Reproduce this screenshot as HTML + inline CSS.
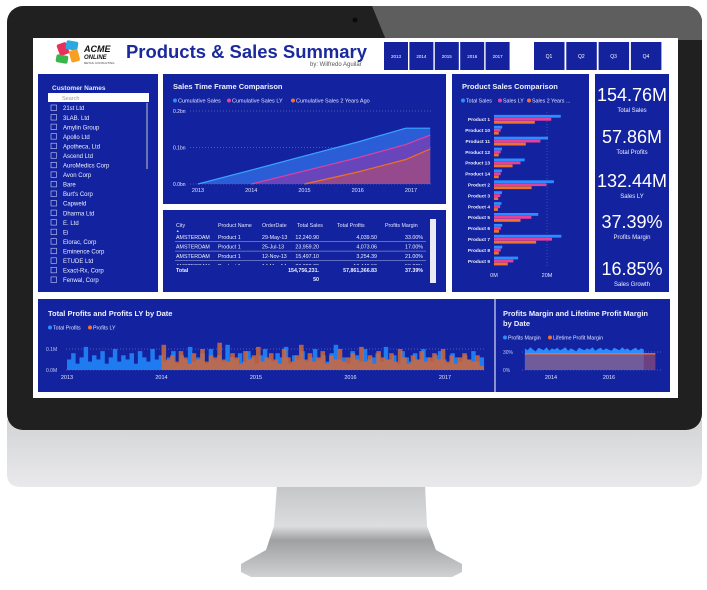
<!DOCTYPE html>
<html><head><meta charset="utf-8">
<style>
html,body{margin:0;padding:0;background:#fff;width:707px;height:590px;overflow:hidden}
svg{display:block}
text{font-family:"Liberation Sans",sans-serif}
</style></head>
<body>
<svg id="root" width="707" height="590" viewBox="0 0 707 590" xmlns="http://www.w3.org/2000/svg">
<defs>
<linearGradient id="chinG" x1="0" y1="0" x2="0" y2="1"><stop offset="0" stop-color="#d3d4d6"/><stop offset="1" stop-color="#e9e9eb"/></linearGradient>
<linearGradient id="neckG" x1="0" y1="0" x2="0" y2="1"><stop offset="0" stop-color="#c4c5c7"/><stop offset="0.45" stop-color="#dcdddf"/><stop offset="0.6" stop-color="#9fa0a2"/><stop offset="1" stop-color="#d0d1d3"/></linearGradient>
<clipPath id="bezelClip"><rect x="7" y="6" width="695" height="424" rx="16"/></clipPath>
</defs>
<!-- monitor -->
<path d="M277,485 L425,485 L427,526 L436,550 L462,564 L462,572 L452,577 L251,577 L241,572 L241,564 L266,550 L274,526 Z" fill="url(#neckG)"/>
<path d="M7,420 L702,420 L702,474 Q702,487 688,487 L21,487 Q7,487 7,474 Z" fill="url(#chinG)"/>
<g clip-path="url(#bezelClip)">
<rect x="7" y="6" width="695" height="424" fill="#202020"/>
<polygon points="372,6 702,6 702,40 386,40" fill="#5e5e5e"/>
</g>
<circle cx="355" cy="20" r="2.5" fill="#0a0a0a"/>
<rect x="33" y="38" width="645" height="360" fill="#ffffff"/>

<!-- header -->
<g>
<rect x="58" y="43" width="10" height="12" rx="2" fill="#e8305a" transform="rotate(-20 63 49)"/>
<rect x="66" y="41" width="12" height="9" rx="2" fill="#2aa8e0" transform="rotate(10 72 45)"/>
<rect x="70" y="50" width="9" height="12" rx="2" fill="#f5a020" transform="rotate(-15 74 56)"/>
<rect x="56" y="55" width="12" height="8" rx="2" fill="#3ab54a" transform="rotate(10 62 59)"/>
<text x="84" y="52" font-size="9" font-weight="bold" font-style="italic" fill="#111">ACME</text>
<text x="84" y="59" font-size="6" font-weight="bold" font-style="italic" fill="#111">ONLINE</text>
<text x="84" y="64" font-size="3" fill="#444">RETAIL CONSULTING</text>
</g>
<text x="126" y="58" font-size="18" font-weight="bold" fill="#1a2a9c" textLength="241" lengthAdjust="spacingAndGlyphs">Products &amp; Sales Summary</text>
<text x="310" y="66" font-size="6" fill="#555">by: Wilfredo Aguilar</text>
<g id="slicers"></g>

<!-- panels -->
<rect x="38" y="74" width="120" height="218" fill="#1323a0"/>
<rect x="163" y="74" width="283" height="130" fill="#1323a0"/>
<rect x="163" y="210" width="283" height="82" fill="#1323a0"/>
<rect x="452" y="74" width="137" height="218" fill="#1323a0"/>
<rect x="595" y="74" width="74" height="218" fill="#1323a0"/>
<rect x="38" y="299" width="632" height="93" fill="#1323a0"/>
<line x1="495" y1="299" x2="495" y2="392" stroke="#ffffff" stroke-width="1"/>

<!-- customer list -->
<text x="52" y="90" font-size="6.5" font-weight="bold" fill="#dfe4ff">Customer Names</text>
<rect x="48" y="93" width="101" height="9" fill="#ffffff"/>
<text x="62" y="100" font-size="5.5" fill="#999">Search</text>
<rect x="146" y="103" width="2" height="66" fill="#6a72b8"/>
<g id="custList"></g>

<!-- sales time frame -->
<text x="173" y="89" font-size="7.5" font-weight="bold" fill="#eef0ff">Sales Time Frame Comparison</text>
<g id="tfLegend"></g>
<g id="tfChart"></g>

<!-- table -->
<g id="table"></g>

<!-- product -->
<text x="462" y="89" font-size="7.5" font-weight="bold" fill="#eef0ff">Product Sales Comparison</text>
<g id="prodChart"></g>

<!-- kpis -->
<g id="kpis"></g>

<!-- bottom left -->
<text x="48" y="316" font-size="7.5" font-weight="bold" fill="#eef0ff">Total Profits and Profits LY by Date</text>
<g id="profChart"></g>

<!-- bottom right -->
<text x="503" y="316" font-size="7.5" font-weight="bold" fill="#eef0ff">Profits Margin and Lifetime Profit Margin</text>
<text x="503" y="326" font-size="7.5" font-weight="bold" fill="#eef0ff">by Date</text>
<g id="marginChart"></g>
</svg>

<script>
// ---------- data ----------
const years = ["2013","2014","2015","2016","2017"];
const quarters = ["Q1","Q2","Q3","Q4"];
const customers = ["21st Ltd","3LAB. Ltd","Amylin Group","Apollo Ltd","Apotheca, Ltd","Ascend Ltd","AuroMedics Corp","Avon Corp","Bare","Burt's Corp","Capweld","Dharma Ltd","E. Ltd","Ei","Elorac, Corp","Eminence Corp","ETUDE Ltd","Exact-Rx, Corp","Fenwal, Corp"];

const tfYears = [2013, 2014, 2015, 2016, 2016.9, 2017.36];
const tfCum = [0, 0.038, 0.077, 0.115, 0.153, 0.153];
const tfLY = [null, 0, 0.036, 0.072, 0.108, 0.134];
const tf2Y = [null, null, 0, 0.033, 0.067, 0.096];
const tfTicks = ["0.0bn","0.1bn","0.2bn"];
const tfTickVals = [0, 0.1, 0.2];

const products = ["Product 1","Product 10","Product 11","Product 12","Product 13","Product 14","Product 2","Product 3","Product 4","Product 5","Product 6","Product 7","Product 8","Product 9"];
const totalSales = [25.2,3.1,20.4,3.0,11.6,3.0,22.6,3.0,2.8,16.7,3.1,25.4,3.1,9.1];
const salesLY = [21.6,2.5,17.5,2.5,10.0,2.5,19.8,2.4,2.3,14.1,2.6,21.9,2.5,7.3];
const sales2Y = [15.4,1.8,12.0,1.8,7.0,1.8,14.2,1.6,1.5,10.0,1.9,15.9,1.8,5.2];

const kpiValues = ["154.76M","57.86M","132.44M","37.39%","16.85%"];
const kpiLabels = ["Total Sales","Total Profits","Sales LY","Profits Margin","Sales Growth"];

const tblHeaders = ["City","Product Name","OrderDate","Total Sales","Total Profits","Profits Margin"];
const tblRows = [
 ["AMSTERDAM","Product 1","29-May-13","12,240.90","4,039.50","33.00%"],
 ["AMSTERDAM","Product 1","25-Jul-13","23,959.20","4,073.06","17.00%"],
 ["AMSTERDAM","Product 1","12-Nov-13","15,497.10","3,254.39","21.00%"],
 ["AMSTERDAM","Product 1","14-Mar-14","20,323.20","10,446.50","50.00%"]
];
const tblTotal = ["Total","","","154,756,231.","57,861,366.83","37.39%"];

const profitTicks = ["0.0M","0.1M"];
const profitTickVals = [0, 0.1];
const profitYears = ["2013","2014","2015","2016","2017"];
const totalProfits = [0.05,0.08,0.03,0.06,0.11,0.04,0.07,0.05,0.09,0.03,0.06,0.1,0.04,0.07,0.05,0.08,0.03,0.09,0.06,0.04,0.1,0.05,0.07,0.04,0.06,0.09,0.03,0.07,0.05,0.11,0.04,0.06,0.08,0.03,0.1,0.05,0.07,0.04,0.12,0.06,0.05,0.08,0.04,0.09,0.06,0.03,0.07,0.1,0.05,0.04,0.08,0.06,0.11,0.03,0.07,0.05,0.09,0.04,0.06,0.1,0.05,0.07,0.04,0.08,0.12,0.05,0.06,0.03,0.09,0.07,0.04,0.1,0.05,0.06,0.08,0.04,0.11,0.05,0.07,0.03,0.09,0.06,0.04,0.08,0.05,0.1,0.06,0.04,0.07,0.09,0.05,0.03,0.08,0.06,0.04,0.07,0.05,0.09,0.04,0.06];
const profitsLY = [0.12,0.05,0.07,0.04,0.09,0.06,0.03,0.08,0.05,0.1,0.04,0.07,0.06,0.13,0.05,0.04,0.08,0.06,0.03,0.09,0.05,0.07,0.11,0.04,0.06,0.08,0.05,0.03,0.1,0.06,0.04,0.07,0.12,0.05,0.08,0.04,0.06,0.09,0.03,0.07,0.05,0.1,0.04,0.06,0.08,0.05,0.11,0.04,0.07,0.03,0.09,0.06,0.05,0.08,0.04,0.1,0.06,0.03,0.07,0.05,0.09,0.04,0.06,0.08,0.05,0.1,0.04,0.07,0.03,0.06,0.08,0.05,0.04,0.07,0.02];

const marginTicks = ["0%","30%"];
const marginTickVals = [0, 30];
const marginYears = ["2014","2016"];
const profitsMargin = [36,33,38,34,31,37,35,33,38,32,36,34,37,33,35,38,32,36,34,31,37,35,33,36,34,38,32,35,37,33,36,34,32,37,35,33,38,34,36,32,35,37,33,36,34];
const lifetimeMargin = [27,27,27,27,27,27,27,27,27,27,27,27,27,27,27,27,27,27,27,27,27,27,27,27,27,27,27,27,27,27,27,27,27,27,27,27,27,27,27,27,27,27,27,27,27,27,27,27,27,27];

// ---------- helpers ----------
const NS = "http://www.w3.org/2000/svg";
function mk(tag, attrs, parent){const e=document.createElementNS(NS,tag);for(const k in attrs)e.setAttribute(k,attrs[k]);parent.appendChild(e);return e;}
function txt(s, attrs, parent){const e=mk("text",attrs,parent);e.textContent=s;return e;}

// ---------- slicers ----------
const sl = document.getElementById("slicers");
years.forEach((y,i)=>{
  const r = mk("rect",{x:384+i*25.4,y:42,width:24,height:28,fill:"#14229d"},sl);
  
  
  txt(y,{x:396+i*25.4,y:58,"font-size":4.5,fill:"#fff","text-anchor":"middle"},sl);
});
quarters.forEach((q,i)=>{
  const r = mk("rect",{x:534+i*32.3,y:42,width:30.5,height:28,fill:"#14229d"},sl);
  
  
  txt(q,{x:549+i*32.3,y:58,"font-size":5,fill:"#fff","text-anchor":"middle"},sl);
});

// ---------- customer list ----------
const cl = document.getElementById("custList");
customers.forEach((c,i)=>{
  const y = 108 + i*9.55;
  const b = mk("rect",{x:51,y:y-3,width:5.5,height:5.5,fill:"none",stroke:"#c8cdf0","stroke-width":0.6},cl);
  
  
  const t = txt(c,{x:63,y:y+2.2,"font-size":6,fill:"#eef0ff"},cl);
  
  
});

// ---------- time frame chart ----------
const tf = document.getElementById("tfChart");
const tfx = yr => 198 + (yr-2013)*53.25;
const tfy = v => 184 - v/0.2*73;
const leg = document.getElementById("tfLegend");
[["Cumulative Sales","#2d8cff",175],["Cumulative Sales LY","#e6409c",229],["Cumulative Sales 2 Years Ago","#f07030",293]].forEach(l=>{
  const d = mk("circle",{cx:l[2],cy:100.5,r:2,fill:l[1]},leg);
  
  
  const t = txt(l[0],{x:l[2]+3,y:102.5,"font-size":5.5,fill:"#dfe4ff"},leg);
  
  
});
tfTickVals.forEach((v,i)=>{
  const g = mk("line",{x1:190,x2:432,y1:tfy(v),y2:tfy(v),stroke:"#8890d0","stroke-width":0.5,"stroke-dasharray":"1 2"},tf);
  
  
  const t = txt(tfTicks[i],{x:173,y:tfy(v)+2,"font-size":5,fill:"#dfe4ff"},tf);
  
  
});
years.forEach(y=>{
  const t = txt(y,{x:tfx(+y),y:192,"font-size":5.5,fill:"#dfe4ff","text-anchor":"middle"},tf);
  
  
});
function areaPath(xs, vs){
  let pts=[];xs.forEach((x,i)=>{if(vs[i]!==null)pts.push([tfx(x),tfy(vs[i])]);});
  const line = pts.map((p,i)=>(i?"L":"M")+p[0].toFixed(1)+","+p[1].toFixed(1)).join("");
  const area = line+"L"+pts[pts.length-1][0].toFixed(1)+","+tfy(0)+"L"+pts[0][0].toFixed(1)+","+tfy(0)+"Z";
  return {line,area};
}
[[tfCum,"#2f64dc","#3aa4ff","cumulative-sales"],[tfLY,"#7043b8","#e040a0","cumulative-sales-ly"],[tf2Y,"#9a4a88","#f07020","cumulative-sales-2y"]].forEach(s=>{
  const p = areaPath(tfYears,s[0]);
  const a = mk("path",{d:p.area,fill:s[1],opacity:0.9},tf);
  
  
  const l = mk("path",{d:p.line,fill:"none",stroke:s[2],"stroke-width":1.2},tf);
  
  
});

// ---------- table ----------
const tb = document.getElementById("table");
const colX = [176,218,262,319,377,423];
const colAnchor = ["start","start","start","end","end","end"];
const hdrX = [176,218,262,297,337,385];
tblHeaders.forEach((h,i)=>{
  const t = txt(h,{x:hdrX[i],y:227,"font-size":5.3,fill:"#dfe4ff"},tb);
  
  
});
txt("▲",{x:176,y:232,"font-size":3.5,fill:"#dfe4ff"},tb);
tblRows.forEach((r,ri)=>{
  const y = 239 + ri*9.6;
  r.forEach((c,ci)=>{
    const t = txt(c,{x:colX[ci],y:y,"font-size":5.3,fill:"#eef0ff","text-anchor":colAnchor[ci]},tb);
    
    
  });
  if(ri<3){const ln=mk("line",{x1:175,x2:426,y1:y+2.5,y2:y+2.5,stroke:"#b0b6e6","stroke-width":0.5},tb);
  
  }
});
mk("rect",{x:174,y:265,width:254,height:4,fill:"#1323a0"},tb);
tblTotal.forEach((c,ci)=>{
  const t = txt(c,{x:colX[ci],y:272,"font-size":5.3,"font-weight":"bold",fill:"#eef0ff","text-anchor":colAnchor[ci]},tb);
  
  
});
txt("50",{x:319,y:281,"font-size":5.3,"font-weight":"bold",fill:"#eef0ff","text-anchor":"end"},tb);
const sb = mk("rect",{x:430,y:219,width:6,height:64,fill:"#e8eaf6"},tb);



// ---------- product chart ----------
const pc = document.getElementById("prodChart");
const px = v => 494 + v*2.65;
const rowY = i => 119.3 + i*10.9;
[["Total Sales","#2d8cff",463],["Sales LY","#e6409c",500],["Sales 2 Years ...","#f07030",529]].forEach(l=>{
  const d = mk("circle",{cx:l[2],cy:100.5,r:2,fill:l[1]},pc);
  
  
  const t = txt(l[0],{x:l[2]+3,y:102.5,"font-size":5.3,fill:"#dfe4ff"},pc);
  
  
});
const gl = mk("line",{x1:px(20),x2:px(20),y1:112,y2:268,stroke:"#6f78c6","stroke-width":0.5,"stroke-dasharray":"1 2"},pc);


products.forEach((p,i)=>{
  const c = rowY(i);
  const t = txt(p,{x:490,y:c+1.8,"font-size":4.8,"font-weight":"bold",fill:"#eef0ff","text-anchor":"end"},pc);
  
  
  [[totalSales,"#2d8cff",-4.4],[salesLY,"#e6409c",-1.4],[sales2Y,"#f07030",1.6]].forEach(s=>{
    const b = mk("rect",{x:px(0),y:c+s[2],width:px(s[0][i])-px(0),height:2.8,fill:s[1]},pc);
    
    
  });
});
["0M","20M"].forEach((l,i)=>{
  const t = txt(l,{x:px(i*20),y:277,"font-size":5.5,fill:"#dfe4ff","text-anchor":"middle"},pc);
  
  
});

// ---------- KPIs ----------
const kp = document.getElementById("kpis");
const kvY = [101,143,187,228,275];
kpiValues.forEach((v,i)=>{
  const t = txt(v,{x:632,y:kvY[i],"font-size":18,fill:"#ffffff","text-anchor":"middle"},kp);
  
  
  const l = txt(kpiLabels[i],{x:632,y:kvY[i]+11,"font-size":6,fill:"#eef0ff","text-anchor":"middle"},kp);
  
  
});

// ---------- total profits chart ----------
const pr = document.getElementById("profChart");
[["Total Profits","#2d8cff",50],["Profits LY","#f07030",90]].forEach(l=>{
  const d = mk("circle",{cx:l[2],cy:327.5,r:2,fill:l[1]},pr);
  
  
  const t = txt(l[0],{x:l[2]+3,y:329.5,"font-size":5.3,fill:"#dfe4ff"},pr);
  
  
});
const bx = yr => 67 + (yr-2013)*94.5;
const by = v => 370 - v*210;
profitTickVals.forEach((v,i)=>{
  const g = mk("line",{x1:66,x2:486,y1:by(v),y2:by(v),stroke:"#8890d0","stroke-width":0.5,"stroke-dasharray":"1 2"},pr);
  
  
  const t = txt(profitTicks[i],{x:46,y:by(v)+2,"font-size":5,fill:"#c0c6f0"},pr);
  
  
});
profitYears.forEach(y=>{
  const t = txt(y,{x:bx(+y),y:379,"font-size":5.5,fill:"#dfe4ff","text-anchor":"middle"},pr);
  
  
});
const pStep = 4.41/totalProfits.length;
totalProfits.forEach((v,i)=>{
  const x0=bx(2013+i*pStep), x1=bx(2013+(i+1)*pStep);
  const b = mk("rect",{x:x0,y:by(v),width:x1-x0+0.3,height:by(0)-by(v),fill:"#1f7cf0"},pr);
  
  
});
const lyStep = 3.41/profitsLY.length;
profitsLY.forEach((v,i)=>{
  const x0=bx(2014+i*lyStep), x1=bx(2014+(i+1)*lyStep);
  const b = mk("rect",{x:x0,y:by(v),width:x1-x0+0.3,height:by(0)-by(v),fill:"#d0683a",opacity:0.85},pr);
  
  
});

// ---------- margin chart ----------
const mc = document.getElementById("marginChart");
[["Profits Margin","#2d8cff",505],["Lifetime Profit Margin","#f07030",550]].forEach(l=>{
  const d = mk("circle",{cx:l[2],cy:337.5,r:2,fill:l[1]},mc);
  
  
  const t = txt(l[0],{x:l[2]+3,y:339.5,"font-size":5.3,fill:"#dfe4ff"},mc);
  
  
});
const mx = yr => 551 + (yr-2014)*29;
const my = v => 370 - v*0.6;
marginTickVals.forEach((v,i)=>{
  const g = mk("line",{x1:522,x2:662,y1:my(v),y2:my(v),stroke:"#8890d0","stroke-width":0.5,"stroke-dasharray":"1 2"},mc);
  
  
  const t = txt(marginTicks[i],{x:503,y:my(v)+2,"font-size":5,fill:"#c0c6f0"},mc);
  
  
});
marginYears.forEach(y=>{
  const t = txt(y,{x:mx(+y),y:379,"font-size":5.5,fill:"#dfe4ff","text-anchor":"middle"},mc);
  
  
});
function mArea(arr, start, span){
  const st = span/(arr.length-1);
  let d = "M"+mx(start)+","+my(0);
  arr.forEach((v,i)=>{d+="L"+mx(start+i*st).toFixed(1)+","+my(v).toFixed(1);});
  d += "L"+mx(start+span).toFixed(1)+","+my(0)+"Z";
  return d;
}
const pa = mk("path",{d:mArea(profitsMargin,2013.1,4.1),fill:"#2a8cff"},mc);


const la = mk("path",{d:mArea(lifetimeMargin,2013.1,4.5),fill:"#8a4c7a",opacity:0.75},mc);


const lst = 4.5/(lifetimeMargin.length-1);
const ll = mk("path",{d:lifetimeMargin.map((v,i)=>(i?"L":"M")+mx(2013.1+i*lst).toFixed(1)+","+my(v).toFixed(1)).join(""),fill:"none",stroke:"#f07030","stroke-width":1.3},mc);


</script>
</body></html>
